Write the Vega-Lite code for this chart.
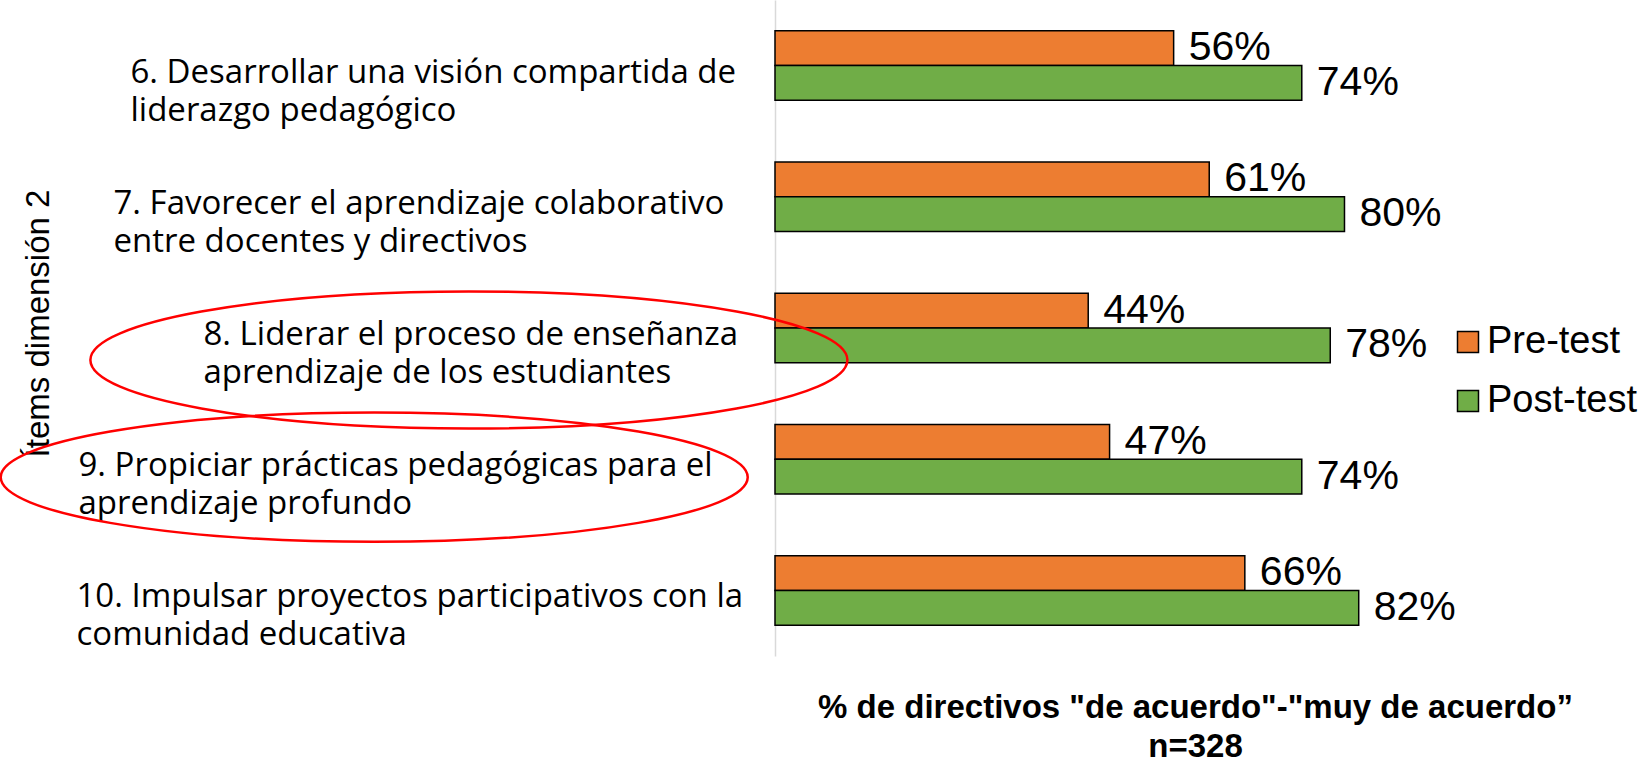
{
  "$schema": "https://vega.github.io/schema/vega-lite/v6.json",
  "width": 840,
  "height": 656,
  "autosize": {"type": "none"},
  "padding": {"left": 775, "top": 0, "right": 31, "bottom": 108},
  "background": "white",
  "config": {"view": {"stroke": null}},
  "datasets": {
    "bars": [
      {"item": "6. Desarrollar una visión compartida de|liderazgo pedagógico", "serie": "Pre-test", "valor": 0.56},
      {"item": "6. Desarrollar una visión compartida de|liderazgo pedagógico", "serie": "Post-test", "valor": 0.74},
      {"item": "7. Favorecer el aprendizaje colaborativo|entre docentes y directivos", "serie": "Pre-test", "valor": 0.61},
      {"item": "7. Favorecer el aprendizaje colaborativo|entre docentes y directivos", "serie": "Post-test", "valor": 0.80},
      {"item": "8. Liderar el proceso de enseñanza|aprendizaje de los estudiantes", "serie": "Pre-test", "valor": 0.44},
      {"item": "8. Liderar el proceso de enseñanza|aprendizaje de los estudiantes", "serie": "Post-test", "valor": 0.78},
      {"item": "9. Propiciar prácticas pedagógicas para el|aprendizaje profundo", "serie": "Pre-test", "valor": 0.47},
      {"item": "9. Propiciar prácticas pedagógicas para el|aprendizaje profundo", "serie": "Post-test", "valor": 0.74},
      {"item": "10. Impulsar proyectos participativos con la|comunidad educativa", "serie": "Pre-test", "valor": 0.66},
      {"item": "10. Impulsar proyectos participativos con la|comunidad educativa", "serie": "Post-test", "valor": 0.82}
    ],
    "notas": [
      {"item": "8. Liderar el proceso de enseñanza|aprendizaje de los estudiantes", "pos": -0.43, "forma": "e1"},
      {"item": "9. Propiciar prácticas pedagógicas para el|aprendizaje profundo", "pos": -0.563, "forma": "e2"}
    ]
  },
  "encoding": {
    "y": {
      "field": "item",
      "type": "nominal",
      "sort": null,
      "scale": {"paddingInner": 0.47, "paddingOuter": 0.235},
      "axis": {
        "title": "Ítems dimensión 2",
        "titleAngle": 270,
        "titleX": -737,
        "titleY": 323,
        "titleAlign": "center",
        "titleBaseline": "middle",
        "titleFont": "Liberation Sans",
        "titleFontSize": 33,
        "titleFontWeight": "normal",
        "titleColor": "#000000",
        "domainColor": "#d9d9d9",
        "domainWidth": 1.5,
        "ticks": false,
        "labelPadding": {
          "condition": [
            {"test": "datum.value[0] == '6'", "value": 645},
            {"test": "datum.value[0] == '7'", "value": 662},
            {"test": "datum.value[0] == '8'", "value": 572},
            {"test": "datum.value[0] == '9'", "value": 697}
          ],
          "value": 699
        },
        "labelOffset": 7,
        "labelAlign": "left",
        "labelBaseline": "middle",
        "labelFont": "Open Sans",
        "labelFontSize": 33,
        "labelLineHeight": 38,
        "labelColor": "#000000",
        "labelLimit": 2000,
        "labelOverlap": false,
        "labelBound": false,
        "labelExpr": "split(datum.label, '|')"
      }
    }
  },
  "layer": [
    {
      "data": {"name": "bars"},
      "mark": {"type": "bar", "stroke": "#000000", "strokeWidth": 1.5},
      "encoding": {
        "x": {
          "field": "valor",
          "type": "quantitative",
          "scale": {"domain": [0, 1.18], "nice": false, "zero": true},
          "axis": {
            "title": ["% de directivos \"de acuerdo\"-\"muy de acuerdo”", "n=328"],
            "titleFont": "Liberation Sans",
            "titleFontSize": 33,
            "titleFontWeight": "bold",
            "titleColor": "#000000",
            "titleLineHeight": 39,
            "titlePadding": 35,
            "labels": false,
            "ticks": false,
            "domain": false,
            "grid": false
          }
        },
        "yOffset": {"field": "serie", "type": "nominal", "sort": ["Pre-test", "Post-test"], "scale": {"paddingInner": 0, "paddingOuter": 0}},
        "color": {
          "field": "serie",
          "type": "nominal",
          "sort": ["Pre-test", "Post-test"],
          "scale": {"domain": ["Pre-test", "Post-test"], "range": ["#ED7D31", "#70AD47"]},
          "legend": {
            "title": null,
            "orient": "none",
            "legendX": 674,
            "legendY": 323,
            "labelFont": "Liberation Sans",
            "labelFontSize": 38,
            "labelColor": "#000000",
            "symbolType": "square",
            "symbolSize": 441,
            "symbolStrokeColor": "#000000",
            "symbolStrokeWidth": 1.5,
            "symbolOpacity": 1,
            "rowPadding": 21,
            "labelOffset": 0
          }
        }
      }
    },
    {
      "data": {"name": "bars"},
      "mark": {"type": "text", "align": "left", "baseline": "middle", "dx": 15, "font": "Liberation Sans", "fontSize": 41, "color": "#000000"},
      "encoding": {
        "x": {"field": "valor", "type": "quantitative"},
        "yOffset": {"field": "serie", "type": "nominal", "sort": ["Pre-test", "Post-test"]},
        "text": {"field": "valor", "type": "quantitative", "format": ".0%"}
      }
    },
    {
      "data": {"name": "notas"},
      "transform": [{"filter": "datum.forma == 'e1'"}],
      "mark": {
        "type": "point",
        "shape": "M-1,0 C-1,-0.1 -0.5523,-0.181 0,-0.181 C0.5523,-0.181 1,-0.1 1,0 C1,0.1 0.5523,0.181 0,0.181 C-0.5523,0.181 -1,0.1 -1,0 Z",
        "size": 573049,
        "filled": false,
        "stroke": "#FF0000",
        "strokeWidth": 2.5,
        "opacity": 1,
        "yOffset": 32
      },
      "encoding": {
        "x": {"field": "pos", "type": "quantitative"}
      }
    },
    {
      "data": {"name": "notas"},
      "transform": [{"filter": "datum.forma == 'e2'"}],
      "mark": {
        "type": "point",
        "shape": "M-1,0 C-1,-0.0954 -0.5523,-0.173 0,-0.173 C0.5523,-0.173 1,-0.0954 1,0 C1,0.0954 0.5523,0.173 0,0.173 C-0.5523,0.173 -1,0.0954 -1,0 Z",
        "size": 558009,
        "filled": false,
        "stroke": "#FF0000",
        "strokeWidth": 2.5,
        "opacity": 1,
        "yOffset": 18
      },
      "encoding": {
        "x": {"field": "pos", "type": "quantitative"}
      }
    }
  ]
}
